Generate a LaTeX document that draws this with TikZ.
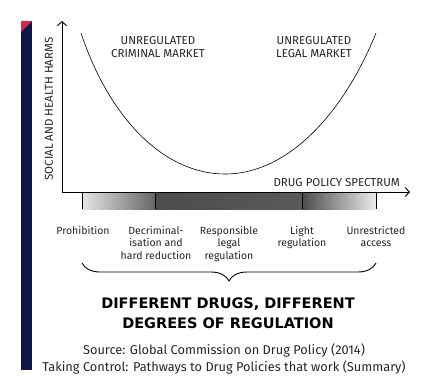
\documentclass[tikz,border=0pt]{standalone}
\usepackage{fontspec}
\setmainfont{Fira Sans}
\newfontfamily\headfont{DejaVu Sans}
\usetikzlibrary{arrows.meta,decorations.pathreplacing,positioning}
\definecolor{navy}{RGB}{14,24,72}
\definecolor{flag}{RGB}{214,38,72}

\begin{document}
\begin{tikzpicture}[x=1pt,y=-1pt,
    txt/.style={font=\fontsize{10.5}{12.5}\selectfont, align=center, text=black!85, inner sep=0pt},
    caps/.style={txt, font=\fontsize{11.5}{13}\selectfont},
    category/.style={txt, anchor=north},
    tickline/.style={line width=0.9pt},
    barb/.tip={Straight Barb[length=4pt,width=9pt]}]
   \useasboundingbox (0,0) rectangle (432,391);
   % side bar
   \fill[navy] (21,21) rectangle (32,370);
   \fill[flag] (21,21) -- (32,21) -- (21,32) -- cycle;
   % axes
   \coordinate (ytop) at (62,21);
   \coordinate (xend) at (410,192);
   \draw[line width=0.9pt, barb-barb] (ytop) |- (xend);
   \node[caps, rotate=90] (harms) at (49,109) {SOCIAL AND HEALTH HARMS};
   \node[caps, anchor=south east] (spectrum) at (400,187) {DRUG POLICY SPECTRUM};
   % curve
   \draw[semithick] (81,33) .. controls (110,120) and (165,174) .. (225,174)
                            .. controls (290,174) and (345,110) .. (376,33);
   \node[caps] (criminal) at (158,47) {UNREGULATED\\CRIMINAL MARKET};
   \node[caps] (legal) at (314,47) {UNREGULATED\\LEGAL MARKET};
   % spectrum bar
   \shade[left color=black!10, right color=black!60] (82,193) rectangle (155,209);
   \shade[left color=black!70, middle color=black!95, right color=black!65] (155,193) rectangle (302,209);
   \shade[left color=black!70, right color=black!8] (302,193) rectangle (376,209);
   \foreach \x in {82,155,302,376}
     \draw[tickline] (\x,192) -- (\x,209);
   % categories
   \node[category] (prohibition) at (83,226) {Prohibition};
   \node[category] (decrim) at (156,226) {Decriminal-\\isation and\\hard reduction};
   \node[category] (responsible) at (229,226) {Responsible\\legal\\regulation};
   \node[category] (light) at (302,226) {Light\\regulation};
   \node[category] (unrestricted) at (376,226) {Unrestricted\\access};
   % brace
   \coordinate (brace-r) at (376,263);
   \coordinate (brace-l) at (82,263);
   \draw[line width=0.9pt, decorate, decoration={brace, amplitude=18pt}] (brace-r) -- (brace-l);
   \node[txt, font=\fontsize{14.5}{20}\selectfont\headfont\bfseries, text=black] (title) at (228,313)
     {DIFFERENT DRUGS, DIFFERENT\\DEGREES OF REGULATION};
   \node[txt, font=\fontsize{12.8}{17}\selectfont] (source) at (224,359)
     {Source: Global Commission on Drug Policy (2014)\\Taking Control: Pathways to Drug Policies that work (Summary)};
\end{tikzpicture}
\end{document}
